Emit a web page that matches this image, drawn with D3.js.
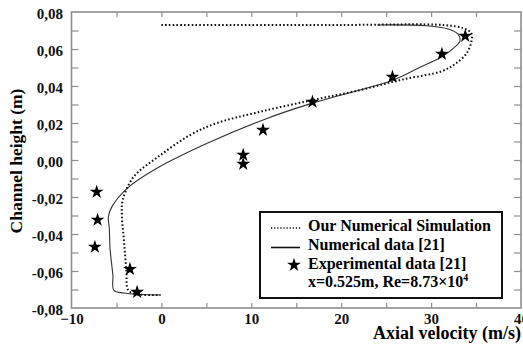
<!DOCTYPE html>
<html>
<head>
<meta charset="utf-8">
<script src="https://cdn.jsdelivr.net/npm/d3@7"></script>
<style>
  body { margin: 0; background: #fff; }
  text { font-family: "Liberation Serif", "Times New Roman", serif; font-weight: bold; }
</style>
</head>
<body>
<div id="wrapper"></div>
<script>
// Our Numerical Simulation (dotted)
const sim_velocity = [0, 20, 31.5, 33.6, 34.4, 34.55, 34.0, 32.7, 31.2, 26.8, 22.1, 16.8, 11, 6.2, 3.2, -0.4, -3.1, -4.3, -4.4, -4.2, -3.9, -3.7, -2.9, -0.1];
const sim_height = [0.073, 0.073, 0.0729, 0.0712, 0.069, 0.0662, 0.058, 0.052, 0.048, 0.0435, 0.0378, 0.0324, 0.0261, 0.02, 0.0135, 0.0016, -0.0092, -0.0216, -0.0297, -0.0416, -0.0595, -0.0703, -0.0724, -0.073];

// Numerical data [21] (solid)
const num_velocity = [24, 29.5, 31.9, 33.0, 33.2, 32.5, 31.2, 28.5, 25.8, 16.7, 11.6, 5.1, -0.5, -3.8, -5.5, -5.9, -5.8, -5.7, -5.4, -5.3, -4.2, -0.1];
const num_height = [0.073, 0.0726, 0.0708, 0.068, 0.0643, 0.0605, 0.0558, 0.0495, 0.0432, 0.0306, 0.0222, 0.009, -0.0045, -0.0153, -0.0252, -0.0308, -0.0368, -0.0486, -0.0622, -0.0703, -0.0719, -0.073];

// Experimental data [21] (stars)
const exp_velocity = [33.8, 31.2, 25.7, 16.8, 11.3, 9.1, 9.1, -7.2, -7.1, -7.4, -3.5, -2.7];
const exp_height = [0.067, 0.0573, 0.0449, 0.0314, 0.0162, 0.0027, -0.0022, -0.0173, -0.0324, -0.047, -0.059, -0.0714];

const x_ticks = [-10, 0, 10, 20, 30, 40];
const y_ticks = [-0.08, -0.06, -0.04, -0.02, 0, 0.02, 0.04, 0.06, 0.08];
const legend_labels = ["Our Numerical Simulation", "Numerical data [21]", "Experimental data [21]"];

const dimensions = {
    width: 523,
    height: 348,
    margin: { top: 12, right: 2, bottom: 40, left: 71.5 }
};
dimensions.bounded_width = dimensions.width - dimensions.margin.left - dimensions.margin.right;
dimensions.bounded_height = dimensions.height - dimensions.margin.top - dimensions.margin.bottom;

const svg = d3.select("#wrapper")
    .append("svg")
    .attr("width", dimensions.width)
    .attr("height", dimensions.height);

const bounds = svg.append("g")
    .attr("transform", `translate(${dimensions.margin.left},${dimensions.margin.top})`);

const x_scale = d3.scaleLinear().domain([-10, 40]).range([0, dimensions.bounded_width]);
const y_scale = d3.scaleLinear().domain([-0.08, 0.08]).range([dimensions.bounded_height, 0]);

const comma = d3.formatLocale({ decimal: ",", thousands: ".", grouping: [3], currency: ["", ""], minus: "-" }).format(".2f");

const axis_color = "#8f8f8f";
const x_minor = d3.range(-5, 40, 5);
const y_minor = d3.range(-0.07, 0.075, 0.01);

// frame
bounds.append("rect")
    .attr("width", dimensions.bounded_width)
    .attr("height", dimensions.bounded_height)
    .attr("fill", "none")
    .attr("stroke", axis_color)
    .attr("stroke-width", 1.6);

function styleAxis(g) {
    g.attr("font-family", null);
    g.select(".domain").remove();
    g.selectAll(".tick line").attr("stroke", axis_color).attr("stroke-width", 1.2);
    g.selectAll(".tick text")
        .attr("fill", "#111")
        .style("font-size", "15px");
}

// ticks (inward) on all sides
bounds.append("g")
    .attr("transform", `translate(0,${dimensions.bounded_height})`)
    .call(d3.axisBottom(x_scale).tickValues(x_minor).tickSize(-5).tickFormat(""))
    .call(styleAxis);
bounds.append("g")
    .attr("transform", `translate(0,${dimensions.bounded_height})`)
    .call(d3.axisBottom(x_scale).tickValues(x_ticks).tickSize(0).tickPadding(5))
    .call(styleAxis);
bounds.append("g")
    .call(d3.axisTop(x_scale).tickValues(x_minor).tickSize(-5).tickFormat(""))
    .call(styleAxis);
bounds.append("g")
    .call(d3.axisLeft(y_scale).tickValues(y_minor).tickSize(-7).tickFormat(""))
    .call(styleAxis);
bounds.append("g")
    .call(d3.axisLeft(y_scale).tickValues(y_ticks).tickSize(0).tickPadding(8.5).tickFormat(comma))
    .call(styleAxis)
    .call(g => g.selectAll(".tick text").attr("dy", "0.45em"));
bounds.append("g")
    .attr("transform", `translate(${dimensions.bounded_width},0)`)
    .call(d3.axisRight(y_scale).tickValues(y_minor).tickSize(-7).tickFormat(""))
    .call(styleAxis);

// curves
const sim_data = sim_velocity.map((v, i) => ({ v: v, h: sim_height[i] }));
const num_data = num_velocity.map((v, i) => ({ v: v, h: num_height[i] }));
const exp_data = exp_velocity.map((v, i) => ({ v: v, h: exp_height[i] }));

const line_gen = d3.line()
    .x(d => x_scale(d.v))
    .y(d => y_scale(d.h))
    .curve(d3.curveCatmullRom.alpha(0.5));

bounds.append("path")
    .datum(num_data)
    .attr("d", line_gen)
    .attr("fill", "none")
    .attr("stroke", "#333")
    .attr("stroke-width", 1.1);

bounds.append("path")
    .datum(sim_data)
    .attr("d", line_gen)
    .attr("fill", "none")
    .attr("stroke", "#111")
    .attr("stroke-width", 2)
    .attr("stroke-dasharray", "1.6,2.2");

const star = d3.symbol().type(d3.symbolStar).size(60);
bounds.selectAll(".star")
    .data(exp_data)
    .enter().append("path")
    .attr("class", "star")
    .attr("d", star)
    .attr("transform", d => `translate(${x_scale(d.v)},${y_scale(d.h)})`)
    .attr("fill", "#000");

// axis titles
svg.append("text")
    .attr("x", 521)
    .attr("y", 339)
    .attr("text-anchor", "end")
    .style("font-size", "18px")
    .text("Axial velocity (m/s)");

svg.append("text")
    .attr("transform", "translate(22,161) rotate(-90)")
    .attr("text-anchor", "middle")
    .style("font-size", "17.5px")
    .text("Channel height (m)");

// legend
const legend = svg.append("g");
legend.append("rect")
    .attr("x", 260).attr("y", 212)
    .attr("width", 242).attr("height", 86)
    .attr("fill", "#fff")
    .attr("stroke", "#111")
    .attr("stroke-width", 2);

legend.append("line")
    .attr("x1", 271).attr("x2", 302).attr("y1", 228).attr("y2", 228)
    .attr("stroke", "#111").attr("stroke-width", 1.6).attr("stroke-dasharray", "1.3,1.8");
legend.append("line")
    .attr("x1", 271).attr("x2", 300).attr("y1", 247.5).attr("y2", 247.5)
    .attr("stroke", "#111").attr("stroke-width", 1.6);
legend.append("path")
    .attr("d", star)
    .attr("transform", "translate(294,265)");

const baselines = [231, 250, 269];
legend_labels.forEach((label, i) => {
    legend.append("text")
        .attr("x", 308).attr("y", baselines[i])
        .style("font-size", "16px")
        .text(label);
});
const cond = legend.append("text")
    .attr("x", 308).attr("y", 287)
    .style("font-size", "16px");
cond.append("tspan").text("x=0.525m, Re=8.73\u00d710");
cond.append("tspan").attr("dy", -6).style("font-size", "10px").text("4");
</script>
</body>
</html>
